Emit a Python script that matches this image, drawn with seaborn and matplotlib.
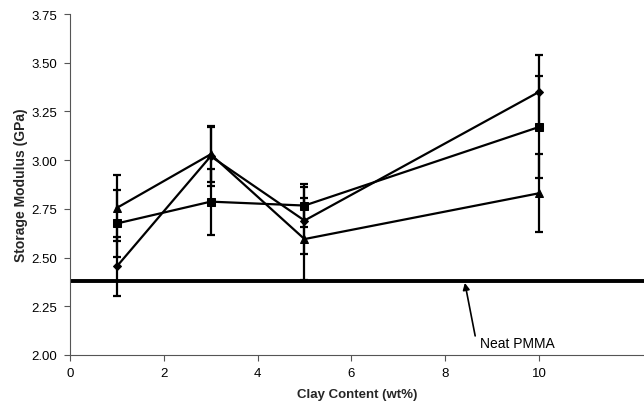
import numpy as np
import pandas as pd
import matplotlib
matplotlib.use("Agg")
import matplotlib.pyplot as plt
import seaborn as sns

# Data
clay = [1, 3, 5, 10]
diamond_vals = [2.455, 3.02, 2.69, 3.35]
diamond_err = [0.15, 0.155, 0.17, 0.19]
square_vals = [2.675, 2.787, 2.767, 3.17]
square_err = [0.17, 0.17, 0.11, 0.26]
triangle_vals = [2.755, 3.03, 2.595, 2.83]
triangle_err = [0.17, 0.14, 0.21, 0.20]
neat_pmma = 2.38
series_names = ["Diamond", "Square", "Triangle"]
x_ticks = [0, 2, 4, 6, 8, 10]
y_ticks = [2.00, 2.25, 2.50, 2.75, 3.00, 3.25, 3.50, 3.75]

sns.set_style("ticks")
plt.rcParams['font.family'] = ['Liberation Sans', 'DejaVu Sans']

df = pd.DataFrame({
    "clay": clay * 3,
    "val": diamond_vals + square_vals + triangle_vals,
    "err": diamond_err + square_err + triangle_err,
    "series": sum([[n] * len(clay) for n in series_names], []),
})

fig = plt.figure(figsize=(6.44, 4.10), dpi=100)
ax = fig.add_axes([70 / 644, 1 - 356 / 410, 1 - 70 / 644, (356 - 15) / 410])

# Neat PMMA line
ax.axhline(neat_pmma, color="black", lw=2.8, zorder=1)

markers = {"Diamond": "D", "Square": "s", "Triangle": "^"}
msizes = {"Diamond": 4, "Square": 6, "Triangle": 6}
for name in series_names:
    sub = df[df["series"] == name]
    ax.errorbar(sub["clay"], sub["val"], yerr=sub["err"], fmt="none",
                ecolor="black", elinewidth=1.6, capsize=2.8, capthick=1.6, zorder=2)
    sns.lineplot(data=sub, x="clay", y="val", ax=ax, color="black", lw=1.6,
                 marker=markers[name], markersize=msizes[name],
                 markeredgecolor="black", markerfacecolor="black", zorder=3)

ax.set_xlim(0, 12.24)
ax.set_ylim(2.0, 3.75)
ax.set_xticks(x_ticks)
ax.set_xticklabels([str(t) for t in x_ticks])
ax.set_yticks(y_ticks)
ax.set_yticklabels([f"{t:.2f}" for t in y_ticks])
ax.tick_params(labelsize=9.5, labelcolor="black", color="#555555",
               length=4, width=0.8, pad=5)
for s in ["top", "right"]:
    ax.spines[s].set_visible(False)
for s in ["left", "bottom"]:
    ax.spines[s].set_color("#555555")
    ax.spines[s].set_linewidth(0.8)

ax.set_xlabel("Clay Content (wt%)", fontsize=9.5, fontweight="bold", labelpad=6)
ax.set_ylabel("Storage Modulus (GPa)", fontsize=10, fontweight="bold", labelpad=3)

# Annotation
ax.annotate("", xy=(8.42, neat_pmma - 0.01), xytext=(8.64, 2.098),
            arrowprops=dict(arrowstyle="-|>", color="black", lw=1.2,
                            shrinkA=0, shrinkB=0, mutation_scale=10),
            annotation_clip=False)
ax.text(9.53, 2.062, "Neat PMMA", ha="center", va="center", fontsize=10,
        color="black")

fig.savefig("out.png", dpi=100)
